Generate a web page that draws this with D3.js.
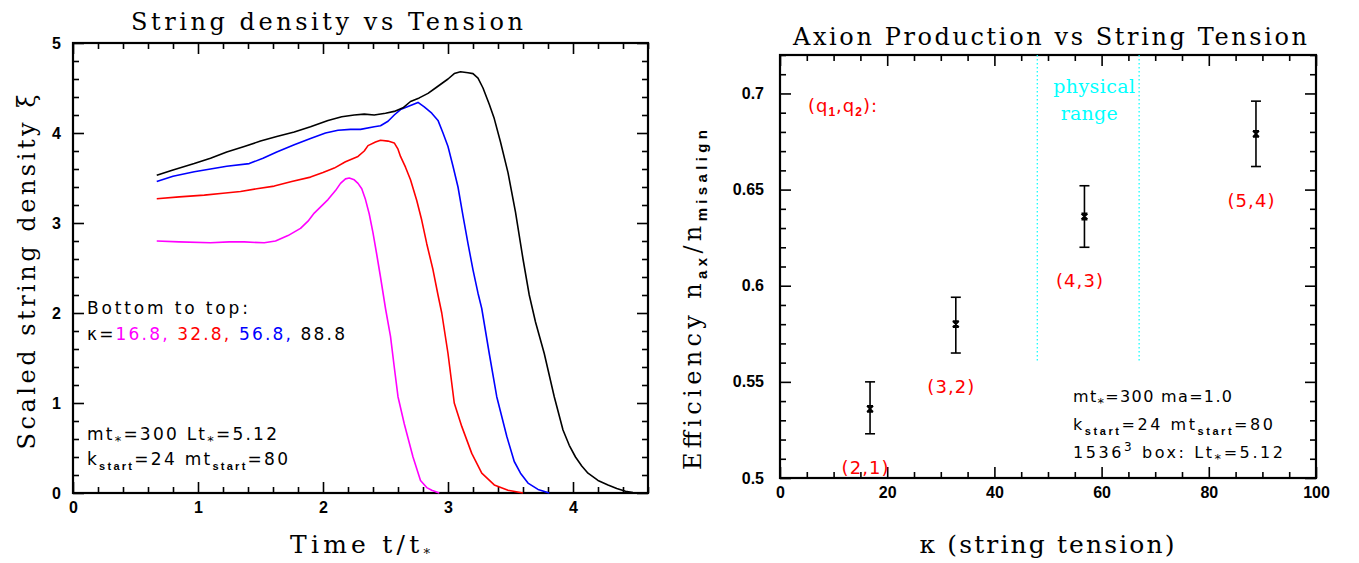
<!DOCTYPE html>
<html><head><meta charset="utf-8">
<script src="https://cdn.jsdelivr.net/npm/d3@7"></script>
<style>body{margin:0;background:#fff}svg{display:block}</style>
</head><body>
<svg id="c" width="1359" height="563"></svg>
<script>
// ---------- Left panel data: scaled string density xi vs t/t* ----------
const tK16  = [0.67,0.85,1.10,1.25,1.37,1.53,1.62,1.72,1.82,1.88,1.93,2.04,2.10,2.14,2.18,2.21,2.25,2.28,2.31,2.34,2.37,2.40,2.43,2.46,2.50,2.54,2.57,2.60,2.65,2.72,2.78,2.83,2.87,2.93];
const xiK16 = [2.80,2.79,2.78,2.79,2.79,2.78,2.80,2.86,2.94,3.02,3.11,3.26,3.36,3.44,3.49,3.50,3.48,3.44,3.38,3.26,3.10,2.89,2.65,2.40,2.05,1.74,1.40,1.07,0.77,0.40,0.14,0.06,0.03,0.00];
const tK32  = [0.67,0.85,1.05,1.20,1.34,1.47,1.61,1.75,1.90,2.00,2.09,2.18,2.28,2.33,2.36,2.42,2.46,2.52,2.57,2.60,2.62,2.66,2.70,2.75,2.79,2.83,2.88,2.92,2.95,3.00,3.05,3.11,3.19,3.27,3.37,3.48,3.60];
const xiK32 = [3.27,3.29,3.31,3.33,3.35,3.38,3.41,3.46,3.51,3.56,3.61,3.68,3.74,3.80,3.86,3.90,3.92,3.91,3.89,3.82,3.74,3.62,3.48,3.25,3.03,2.77,2.48,2.20,2.00,1.55,1.00,0.74,0.44,0.22,0.09,0.03,0.00];
const tK56  = [0.67,0.80,0.97,1.10,1.23,1.41,1.52,1.63,1.77,1.90,2.02,2.12,2.22,2.30,2.41,2.46,2.52,2.57,2.62,2.69,2.76,2.81,2.87,2.92,2.96,3.00,3.04,3.08,3.12,3.16,3.20,3.24,3.27,3.33,3.39,3.43,3.47,3.53,3.58,3.64,3.72,3.81];
const xiK56 = [3.46,3.52,3.57,3.60,3.63,3.66,3.72,3.79,3.87,3.94,4.00,4.03,4.04,4.04,4.07,4.08,4.13,4.20,4.26,4.30,4.34,4.29,4.22,4.14,4.00,3.85,3.63,3.40,3.08,2.77,2.48,2.22,2.05,1.55,1.07,0.85,0.63,0.35,0.22,0.11,0.04,0.00];
const tK88  = [0.67,0.80,0.97,1.10,1.23,1.37,1.50,1.63,1.77,1.90,2.04,2.15,2.25,2.33,2.41,2.50,2.57,2.64,2.70,2.77,2.84,2.90,2.95,3.00,3.05,3.10,3.16,3.20,3.24,3.28,3.33,3.37,3.42,3.48,3.54,3.60,3.65,3.70,3.77,3.85,3.92,3.97,4.02,4.07,4.12,4.20,4.28,4.35,4.42,4.48,4.55];
const xiK88 = [3.53,3.59,3.66,3.72,3.79,3.85,3.91,3.96,4.01,4.07,4.14,4.18,4.20,4.21,4.20,4.22,4.24,4.28,4.35,4.39,4.44,4.50,4.55,4.60,4.66,4.68,4.67,4.66,4.61,4.50,4.32,4.16,3.90,3.56,3.12,2.60,2.20,1.90,1.55,1.07,0.70,0.53,0.40,0.30,0.22,0.14,0.09,0.05,0.02,0.005,0.00];
const leftSeriesColors = ["#ff00ff","#ff0000","#0000ff","#000000"];
const leftKappaLabels = ["16.8,","32.8,","56.8,","88.8"];
const leftXTicks = [0,1,2,3,4];
const leftYTicks = [0,1,2,3,4,5];

// ---------- Right panel data: efficiency vs kappa ----------
const kappaValues = [16.8, 32.8, 56.8, 88.8];
const efficiency  = [0.536, 0.580, 0.636, 0.679];
const effLow      = [0.523, 0.565, 0.620, 0.662];
const effHigh     = [0.550, 0.594, 0.652, 0.696];
const qLabels     = ["(2,1)","(3,2)","(4,3)","(5,4)"];
const physicalRange = [48, 67];
const rightXTicks = [0,20,40,60,80,100];
const rightYTicks = [0.5,0.55,0.6,0.65,0.7];

const svg = d3.select("#c");
const SERIF = "'DejaVu Serif',serif";
const SANS = "'DejaVu Sans',sans-serif";
const TICKSANS = "'Liberation Sans',Arial,sans-serif";

function drawFrame(xs, ys, xMaj, xMin, yMaj, yMin, xFmt, yFmt, yPad) {
  const [x0,x1] = xs.range(), [y0,y1] = ys.range(); // y0 bottom
  const g = svg.append("g");
  const mk = (axis, tr, vals, size, fmt, pad) => {
    const a = g.append("g").attr("transform", tr)
      .call(axis.tickValues(vals).tickSize(size).tickSizeOuter(0).tickPadding(pad || 10).tickFormat(fmt || (()=>"")));
    a.select(".domain").remove();
    a.selectAll("line").attr("stroke","#000").attr("stroke-width",1.6);
    a.selectAll("text").attr("font-family",TICKSANS).attr("font-weight","bold").attr("font-size",16).attr("fill","#000");
    return a;
  };
  mk(d3.axisBottom(xs), `translate(0,${y0})`, xMaj, -11, xFmt, 9);
  mk(d3.axisBottom(xs), `translate(0,${y0})`, xMin, -6);
  mk(d3.axisTop(xs), `translate(0,${y1})`, xMaj, -11);
  mk(d3.axisTop(xs), `translate(0,${y1})`, xMin, -6);
  mk(d3.axisLeft(ys), `translate(${x0},0)`, yMaj, -11, yFmt, yPad);
  mk(d3.axisLeft(ys), `translate(${x0},0)`, yMin, -6);
  mk(d3.axisRight(ys), `translate(${x1},0)`, yMaj, -11);
  mk(d3.axisRight(ys), `translate(${x1},0)`, yMin, -6);
  g.append("rect").attr("x",x0).attr("y",y1).attr("width",x1-x0).attr("height",y0-y1)
    .attr("fill","none").attr("stroke","#000").attr("stroke-width",2.2);
}
const minorVals = (a,b,step,majors) => d3.range(Math.round((b-a)/step)+1).map(i=>+(a+i*step).toFixed(4))
  .filter(v => !majors.some(m => Math.abs(m-v) < 1e-6));

function label(x, y, str, opts) {
  const t = svg.append("text").attr("x",x).attr("y",y)
    .attr("font-family", opts.family || SERIF).attr("font-size", opts.size || 24)
    .attr("fill", opts.fill || "#000").attr("text-anchor", opts.anchor || "middle");
  if (str !== null) t.text(str);
  if (opts.len) t.attr("textLength", opts.len).attr("lengthAdjust","spacing");
  if (opts.rotate) t.attr("transform", `rotate(-90,${x},${y})`);
  return t;
}
// rich text: parts {text, sub|sup|star, fill}
function rich(t, parts, subSize, subShift) {
  let shift = 0;
  const ss = subShift || 5;
  parts.forEach(p => {
    const s = t.append("tspan").text(p.text);
    const target = p.sub ? ss : p.star ? 5 : p.sup ? -7 : 0;
    if (target !== shift) s.attr("dy", target - shift);
    shift = target;
    if (p.sub) s.attr("font-size", subSize || 11).attr("font-weight","bold").attr("font-family", TICKSANS);
    if (p.star) s.attr("font-size", 13);
    if (p.sup) s.attr("font-size", 12);
    if (p.fill) s.attr("fill", p.fill);
  });
  return t;
}

// ================= LEFT PANEL =================
const xL = d3.scaleLinear([0,4.6],[73,648]);
const yL = d3.scaleLinear([0,5],[493,43]);
drawFrame(xL, yL, leftXTicks, minorVals(0,4.6,0.2,leftXTicks), leftYTicks, minorVals(0,5,0.2,leftYTicks),
  d3.format("d"), d3.format("d"), 12);

const leftSeries = [d3.zip(tK16,xiK16), d3.zip(tK32,xiK32), d3.zip(tK56,xiK56), d3.zip(tK88,xiK88)];
const lineL = d3.line().x(d=>xL(d[0])).y(d=>yL(d[1]));
svg.append("g").selectAll("path").data(leftSeries).join("path")
  .attr("d", lineL).attr("fill","none").attr("stroke",(d,i)=>leftSeriesColors[i])
  .attr("stroke-width",1.6).attr("stroke-linejoin","round");

label(327, 30, "String density vs Tension", {size:24, len:392});
rich(label(360, 553, null, {size:25, len:140}), [{text:"Time t/t"},{text:"*", star:1}]);
label(35, 272, "Scaled string density \u03be", {size:24, len:355, rotate:true});

// legend text
label(87, 314, "Bottom to top:", {family:SANS, size:17, anchor:"start", len:161});
rich(label(87, 340, null, {family:SANS, size:17, anchor:"start", len:258}),
  [{text:"\u03ba="}].concat(leftKappaLabels.map((s,i)=>({text: s + (i<3?" ":""), fill: leftSeriesColors[i]}))));
rich(label(87, 440, null, {family:SANS, size:17, anchor:"start", len:190}),
  [{text:"mt"},{text:"*",star:1},{text:"=300 Lt"},{text:"*",star:1},{text:"=5.12"}]);
rich(label(87, 465, null, {family:SANS, size:17, anchor:"start", len:201}),
  [{text:"k"},{text:"start",sub:1},{text:"=24 mt"},{text:"start",sub:1},{text:"=80"}]);

// ================= RIGHT PANEL =================
const xR = d3.scaleLinear([0,100],[780,1316]);
const yR = d3.scaleLinear([0.5,0.72],[478,55]);
drawFrame(xR, yR, rightXTicks, minorVals(0,100,5,rightXTicks), rightYTicks, minorVals(0.5,0.72,0.01,rightYTicks),
  d3.format("d"), d => String(+d.toFixed(2)), 16);

// physical range dotted lines
svg.append("g").selectAll("line").data(physicalRange).join("line")
  .attr("x1",d=>xR(d)).attr("x2",d=>xR(d)).attr("y1",yR(0.72)).attr("y2",yR(0.56))
  .attr("stroke","#00ffff").attr("stroke-width",1.2).attr("stroke-dasharray","1.5,2.5");
const pc = xR(d3.mean(physicalRange));
label(pc+6, 93, "physical", {size:19, fill:"#00ffff", len:82});
label(pc+1, 120, "range", {size:19, fill:"#00ffff", len:57});

// error bars and markers
const pts = kappaValues.map((k,i)=>({k, e:efficiency[i], lo:effLow[i], hi:effHigh[i], q:qLabels[i]}));
const gp = svg.append("g").attr("stroke","#000").attr("stroke-width",1.6);
pts.forEach(p => {
  const cx = xR(p.k);
  gp.append("line").attr("x1",cx).attr("x2",cx).attr("y1",yR(p.lo)).attr("y2",yR(p.hi));
  [p.lo,p.hi].forEach(v => gp.append("line").attr("x1",cx-5).attr("x2",cx+5).attr("y1",yR(v)).attr("y2",yR(v)));
  gp.append("path").attr("transform",`translate(${cx},${yR(p.e)})`).attr("fill","none")
    .attr("d","M-3,-3L3,3M3,-3L-3,3M-3,-3L3,-3M-3,3L3,3").attr("stroke-width",1.8);
  label(cx-5, yR(p.lo)+40, p.q, {family:SANS, size:18, fill:"#ff0000", len:47});
});

// (q1,q2):
rich(label(808, 112, null, {family:SANS, size:18, anchor:"start", fill:"#ff0000", len:69}),
  [{text:"(q"},{text:"1",sub:1},{text:",q"},{text:"2",sub:1},{text:"):"}], 12, 4);

label(1050, 45, "Axion Production vs String Tension", {size:24, len:514});
label(1047, 553, "\u03ba (string tension)", {size:25, len:255});
rich(label(701, 300, null, {size:24, len:340, rotate:true}),
  [{text:"Efficiency n"},{text:"ax",sub:1},{text:"/n"},{text:"misalign",sub:1}], 15, 6);

rich(label(1073, 402, null, {family:SANS, size:16, anchor:"start", len:159}),
  [{text:"mt"},{text:"*",star:1},{text:"=300 ma=1.0"}]);
rich(label(1073, 430, null, {family:SANS, size:16, anchor:"start", len:200}),
  [{text:"k"},{text:"start",sub:1},{text:"=24 mt"},{text:"start",sub:1},{text:"=80"}]);
rich(label(1073, 458, null, {family:SANS, size:16, anchor:"start", len:210}),
  [{text:"1536"},{text:"3",sup:1},{text:" box: Lt"},{text:"*",star:1},{text:"=5.12"}]);
</script>
</body></html>
